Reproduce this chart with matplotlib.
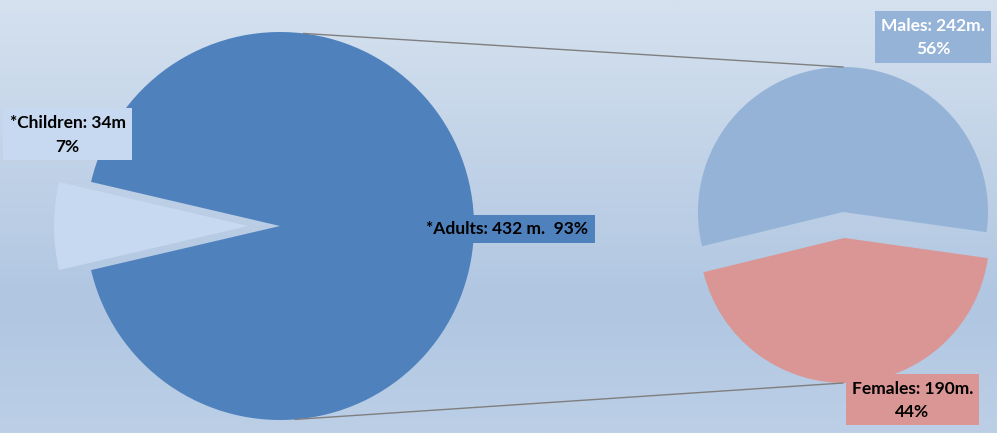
import numpy as np
import matplotlib
matplotlib.use("Agg")
import matplotlib.pyplot as plt
from matplotlib.patches import Rectangle

# ---- data ----
main_labels = ["*Children", "*Adults"]
main_values = [34, 432]
main_pct = [7, 93]
main_colors = ["#c6d9f0", "#4f81bd"]

sub_labels = ["Males", "Females"]
sub_values = [242, 190]
sub_pct = [56, 44]
sub_colors = ["#95b3d7", "#d99694"]

W, H = 997, 433
fig = plt.figure(figsize=(W / 100, H / 100), dpi=100)
ax = fig.add_axes([0, 0, 1, 1])
ax.set_xlim(0, W)
ax.set_ylim(0, H)
ax.axis("off")

# background gradient
g = np.linspace(0, 1, 256)
top = np.array([213, 225, 239]) / 255
mid = np.array([176, 198, 225]) / 255
bot = np.array([188, 207, 231]) / 255
cols = []
for t in g:
    if t < 0.7:
        c = top + (mid - top) * (t / 0.7)
    else:
        c = mid + (bot - mid) * ((t - 0.7) / 0.3)
    cols.append(c)
grad = np.array(cols)[:, None, :]
ax.imshow(grad, extent=[0, W, 0, H], aspect="auto", zorder=0, origin="upper")

# main pie
c1 = (280, H - 226)
r1 = 194
frac_child = main_values[0] / sum(main_values)
start1 = 180 - frac_child * 360 / 2
ax.pie(main_values, colors=main_colors, center=c1, radius=r1,
       startangle=start1, explode=[32, 0],
       wedgeprops=dict(linewidth=0), frame=True)

# sub pie
c2 = (843, H - 212)
r2 = 145
ax.pie(sub_values, colors=sub_colors, center=c2, radius=r2,
       startangle=-8, explode=[0, 26],
       wedgeprops=dict(linewidth=0), frame=True)

ax.set_xlim(0, W)
ax.set_ylim(0, H)
ax.set_aspect("auto")
ax.axis("off")

# connector lines
a_top, a_bot = np.deg2rad(83), np.deg2rad(-85.5)
p1 = (c1[0] + r1 * np.cos(a_top), c1[1] + r1 * np.sin(a_top))
p2 = (c2[0], c2[1] + r2)
p3 = (c1[0] + r1 * np.cos(a_bot), c1[1] + r1 * np.sin(a_bot))
p4 = (c2[0], c2[1] - 26 - r2)
ax.plot([p1[0], p2[0]], [p1[1], p2[1]], color="#7f7f7f", lw=1, zorder=1)
ax.plot([p3[0], p4[0]], [p3[1], p4[1]], color="#7f7f7f", lw=1, zorder=1)

FONT = "Lato"
fs = 12.5

def box(x0, y0, x1, y1, color, lines, tcolor, ys):
    ax.add_patch(Rectangle((x0, H - y1), x1 - x0, y1 - y0, facecolor=color,
                           edgecolor="none", zorder=5))
    cx = (x0 + x1) / 2
    for txt, y in zip(lines, ys):
        ax.text(cx, H - y, txt, ha="center", va="center", fontsize=fs,
                fontweight="bold", family=FONT, color=tcolor, zorder=6)

box(3, 108, 132, 160, main_colors[0],
    [f"{main_labels[0]}: {main_values[0]}m", f"{main_pct[0]}%"], "black", [123, 147])
box(418, 215, 595, 243, main_colors[1],
    [f"{main_labels[1]}: {main_values[1]} m.  {main_pct[1]}%"], "black", [229.5])
box(875, 11, 991, 63, sub_colors[0],
    [f"{sub_labels[0]}: {sub_values[0]}m.", f"{sub_pct[0]}%"], "white", [26, 49])
box(846, 374, 979, 425, sub_colors[1],
    [f"{sub_labels[1]}: {sub_values[1]}m.", f"{sub_pct[1]}%"], "black", [389, 412])

fig.savefig("out.png", dpi=100)
